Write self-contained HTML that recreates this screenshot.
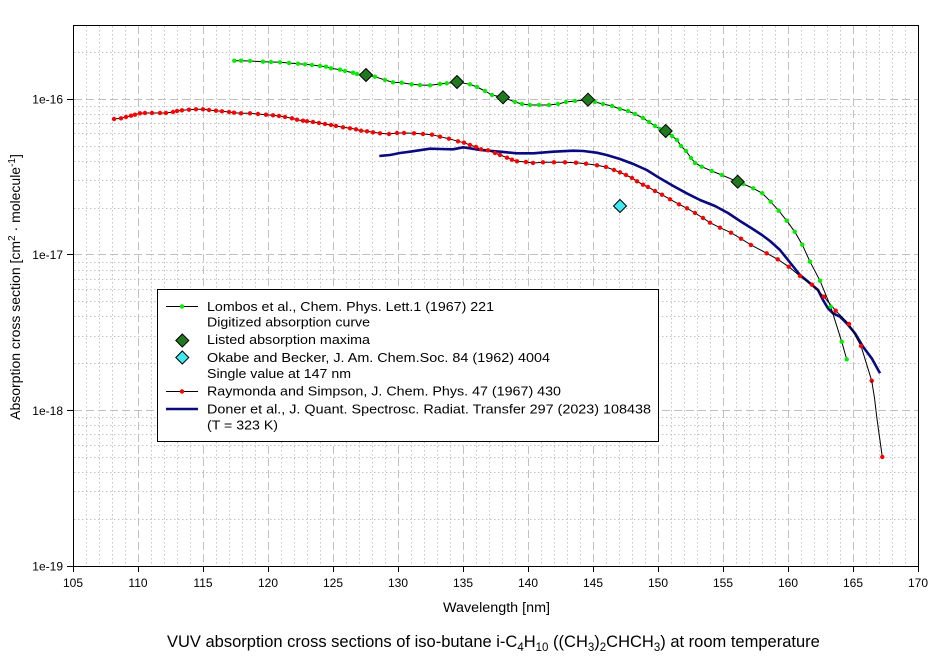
<!DOCTYPE html>
<html><head><meta charset="utf-8"><style>
html,body{margin:0;padding:0;background:#fff;}
svg{display:block;font-family:"Liberation Sans",Arial,sans-serif;}
</style></head><body>
<svg width="944" height="659" viewBox="0 0 944 659" xmlns="http://www.w3.org/2000/svg">
<defs>
<marker id="gm" markerUnits="userSpaceOnUse" markerWidth="6" markerHeight="6" refX="3" refY="3"><circle cx="3" cy="3" r="2.2" fill="#00ee00"/></marker>
<marker id="rm" markerUnits="userSpaceOnUse" markerWidth="6" markerHeight="6" refX="3" refY="3"><circle cx="3" cy="3" r="2.2" fill="#ff0000"/></marker>
</defs>
<rect x="0" y="0" width="944" height="659" fill="#fff"/>
<!-- minor vertical grid -->
<path fill="none" stroke="#c4c4c4" stroke-width="1" stroke-dasharray="1.5,2.5" d="M86.5 26V566M99.5 26V566M112.5 26V566M125.5 26V566M151.5 26V566M164.5 26V566M177.5 26V566M190.5 26V566M216.5 26V566M229.5 26V566M242.5 26V566M255.5 26V566M281.5 26V566M294.5 26V566M307.5 26V566M320.5 26V566M346.5 26V566M359.5 26V566M372.5 26V566M385.5 26V566M411.5 26V566M424.5 26V566M437.5 26V566M450.5 26V566M476.5 26V566M489.5 26V566M502.5 26V566M515.5 26V566M541.5 26V566M554.5 26V566M567.5 26V566M580.5 26V566M606.5 26V566M619.5 26V566M632.5 26V566M645.5 26V566M671.5 26V566M684.5 26V566M697.5 26V566M710.5 26V566M736.5 26V566M749.5 26V566M762.5 26V566M775.5 26V566M801.5 26V566M814.5 26V566M827.5 26V566M840.5 26V566M866.5 26V566M879.5 26V566M892.5 26V566M905.5 26V566"/>
<!-- minor horizontal grid -->
<path fill="none" stroke="#c4c4c4" stroke-width="1" stroke-dasharray="1.5,2.5" d="M74 52.5H918M74 106.5H918M74 114.5H918M74 123.5H918M74 133.5H918M74 146.5H918M74 161.5H918M74 180.5H918M74 208.5H918M74 262.5H918M74 270.5H918M74 279.5H918M74 289.5H918M74 301.5H918M74 316.5H918M74 336.5H918M74 363.5H918M74 417.5H918M74 425.5H918M74 434.5H918M74 445.5H918M74 457.5H918M74 472.5H918M74 491.5H918M74 519.5H918"/>
<!-- major grid -->
<path fill="none" stroke="#c0c0c0" stroke-width="1" stroke-dasharray="8,4" d="M138.5 26V566M203.5 26V566M268.5 26V566M333.5 26V566M398.5 26V566M463.5 26V566M528.5 26V566M593.5 26V566M658.5 26V566M723.5 26V566M788.5 26V566M853.5 26V566M74 99.5H918M74 254.5H918M74 410.5H918"/>
<!-- plot border -->
<rect x="73.5" y="25.5" width="845" height="541" fill="none" stroke="#000" stroke-width="1"/>
<!-- ticks -->
<path fill="none" stroke="#000" stroke-width="1" d="M73.5 566V572M138.5 566V572M203.5 566V572M268.5 566V572M333.5 566V572M398.5 566V572M463.5 566V572M528.5 566V572M593.5 566V572M658.5 566V572M723.5 566V572M788.5 566V572M853.5 566V572M918.5 566V572M67 99.5H73M67 254.5H73M67 410.5H73M67 566.5H73"/>
<!-- x tick labels -->
<g font-size="12" text-anchor="middle" fill="#000">
<text x="73" y="587">105</text><text x="138" y="587">110</text><text x="203" y="587">115</text><text x="268" y="587">120</text><text x="333" y="587">125</text><text x="398" y="587">130</text><text x="463" y="587">135</text><text x="528" y="587">140</text><text x="593" y="587">145</text><text x="658" y="587">150</text><text x="723" y="587">155</text><text x="788" y="587">160</text><text x="853" y="587">165</text><text x="918" y="587">170</text>
</g>
<g font-size="12" text-anchor="end" fill="#000">
<text x="63" y="103.5">1e-16</text><text x="63" y="259">1e-17</text><text x="63" y="415">1e-18</text><text x="63" y="570.5">1e-19</text>
</g>
<!-- axis titles -->
<text x="443" y="612" font-size="13.5" textLength="107" lengthAdjust="spacingAndGlyphs">Wavelength [nm]</text>
<text transform="translate(20,287) rotate(-90)" font-size="14" text-anchor="middle">Absorption cross section [cm<tspan font-size="10" dy="-5">2</tspan><tspan dy="5"> · molecule</tspan><tspan font-size="10" dy="-5">-1</tspan><tspan dy="5">]</tspan></text>
<!-- caption -->
<text x="167" y="647" font-size="16.5">VUV absorption cross sections of iso-butane i-C<tspan font-size="11.5" dy="4">4</tspan><tspan dy="-4">H</tspan><tspan font-size="11.5" dy="4">10</tspan><tspan dy="-4"> ((CH</tspan><tspan font-size="11.5" dy="4">3</tspan><tspan dy="-4">)</tspan><tspan font-size="11.5" dy="4">2</tspan><tspan dy="-4">CHCH</tspan><tspan font-size="11.5" dy="4">3</tspan><tspan dy="-4">) at room temperature</tspan></text>

<!-- Blue Doner -->
<polyline fill="none" stroke="#0a0a80" stroke-width="2.6" stroke-linejoin="round" points="379.3,156 390,155 400,153 410,151.7 430,148.7 440,149 453,149.3 463.3,147.3 470,148.3 480,150 500,151.7 516.7,153.3 533.3,153.3 553.3,151.7 573.3,150.7 583.3,151 596.7,152.7 606.7,155 620,159 633.3,164 646.7,170 660,178.3 673.3,186 686.7,193.3 700,200 715,206 728,213 740,221 752,228.5 762,235 770,241 780,250 788,260 800,275 810,283.3 818,290 823,300 828,308.3 833,313.3 840,316.7 846.7,323.3 855,333.3 863,346.7 871.7,358.3 880,373.3"/>

<!-- Red Raymonda -->
<polyline fill="none" stroke="#000" stroke-width="1" marker-start="url(#rm)" marker-mid="url(#rm)" marker-end="url(#rm)" points="114,119 121,118.3 126,117 131,115.7 135,114.7 140,113.3 145,113 152,113 160,113 166,113 173,112 177,111 182,110.3 189,109.7 196,109.3 203,109.3 209,110 216,110.7 222,111.3 229,112 234,112.7 241,113.3 250,113.3 258,114 266,114.7 273,115.3 279,116 285,117 292,118.3 297,119.7 303,120.7 307,121.3 313,122 319,123 325,124 331,125 336,126 343,127.3 350,128.3 356,129.3 361,130.7 367,131.3 373,132.3 380,133.3 389,134 397,133 404,133 414,133.3 423,134 432,134.7 440,136.7 449,138.7 458,141.3 464,142.7 470,145 476,147 481,149.3 488,150.3 495,153 500,155 507,157.7 512,159.7 517,161.3 526,162 533,163 543,162.3 554,162.3 565,162.3 576,162.7 586,163.7 597,165.3 606,167 614,170 620,172.3 626,175 632,178 637,181.3 643,184.7 648,187 655,191 662,194.7 670,199.3 679,204.3 687,208.3 695,213 703,218 710,222.7 720,227.7 731,232.7 741,238.7 751,245 766.7,253.3 777.7,259.3 788.7,266.7 800,276 812,284.7 824,296.7 835.7,310.7 849,324 861,346 871.7,380.7"/>
<polyline fill="none" stroke="#000" stroke-width="1" marker-end="url(#rm)" points="871.7,380.7 874.5,398 876.7,416.7 879.5,437 882.3,457"/>

<!-- Green Lombos -->
<polyline fill="none" stroke="#000" stroke-width="1" marker-start="url(#gm)" marker-mid="url(#gm)" marker-end="url(#gm)" points="234.3,60.7 241,60.7 250,61 263,61.7 271,62 280,62.3 289,63 298,63.7 305,64.3 312,65 320,66 326,66.7 331,68.3 340,69.7 345,71 353,72.7 357,74 366,75 375,76.7 385,80 393,82.3 401.7,82.7 411.7,84.3 420,85 430,85.3 440,84 446.7,83.3 457,82 470,84.3 477,87 485,91 492,95 503,97.3 515,102 522,104 530,105 539,105 549,105 558,104 566,102 575,101 588,99.7 595,102 603,104 612,106 620,109 628,111 635,114 643,118 649,122 655,126 660,129 665.7,131 672,136 677,140 681,146 686,151 691,158 695,163 701.7,166.7 711.7,171 721.7,175 737.7,181.7 743.3,184 753.3,188.3 762.3,193.3 770.7,201.7 778.7,210.7 786.7,220.7 794.7,231.7 802.3,244.7 810,261.7 820,280.7 830.7,306.7 841.7,341.7 846.7,359.3"/>

<!-- Diamonds: listed maxima -->
<g fill="#1f7a1f" stroke="#000" stroke-width="1">
<polygon points="366,68.5 372.5,75 366,81.5 359.5,75"/>
<polygon points="457,75.5 463.5,82 457,88.5 450.5,82"/>
<polygon points="503,90.8 509.5,97.3 503,103.8 496.5,97.3"/>
<polygon points="588,93.2 594.5,99.7 588,106.2 581.5,99.7"/>
<polygon points="665.7,124.5 672.2,131 665.7,137.5 659.2,131"/>
<polygon points="737.7,175.2 744.2,181.7 737.7,188.2 731.2,181.7"/>
</g>
<!-- Cyan diamond -->
<polygon points="620,199.5 626.5,206 620,212.5 613.5,206" fill="#40e8f0" stroke="#000" stroke-width="1"/>

<!-- Legend -->
<rect x="157.5" y="289.5" width="501" height="152" fill="#fff" stroke="#000" stroke-width="1"/>
<line x1="166" y1="306.5" x2="198" y2="306.5" stroke="#000" stroke-width="1"/>
<circle cx="182" cy="306.5" r="2.2" fill="#00ee00"/>
<polygon points="182.3,334 188.8,340.5 182.3,347 175.8,340.5" fill="#1f7a1f" stroke="#000" stroke-width="1"/>
<polygon points="182.3,351 188.8,357.5 182.3,364 175.8,357.5" fill="#40e8f0" stroke="#000" stroke-width="1"/>
<line x1="166" y1="391.5" x2="198" y2="391.5" stroke="#000" stroke-width="1"/>
<circle cx="182" cy="391.5" r="2.2" fill="#ff0000"/>
<line x1="166" y1="409" x2="198" y2="409" stroke="#0a0a80" stroke-width="2.6"/>
<g font-size="13" fill="#000" lengthAdjust="spacingAndGlyphs">
<text x="207" y="311" textLength="287" lengthAdjust="spacingAndGlyphs">Lombos et al., Chem. Phys. Lett.1 (1967) 221</text>
<text x="207" y="326.5" textLength="163" lengthAdjust="spacingAndGlyphs">Digitized absorption curve</text>
<text x="207" y="344" textLength="163" lengthAdjust="spacingAndGlyphs">Listed absorption maxima</text>
<text x="207" y="362" textLength="343" lengthAdjust="spacingAndGlyphs">Okabe and Becker, J. Am. Chem.Soc. 84 (1962) 4004</text>
<text x="207" y="378" textLength="144" lengthAdjust="spacingAndGlyphs">Single value at 147 nm</text>
<text x="207" y="395.5" textLength="354" lengthAdjust="spacingAndGlyphs">Raymonda and Simpson, J. Chem. Phys. 47 (1967) 430</text>
<text x="207" y="413.5" textLength="444" lengthAdjust="spacingAndGlyphs">Doner et al., J. Quant. Spectrosc. Radiat. Transfer 297 (2023) 108438</text>
<text x="207" y="429.5" textLength="71" lengthAdjust="spacingAndGlyphs">(T = 323 K)</text>
</g>
</svg>
</body></html>
